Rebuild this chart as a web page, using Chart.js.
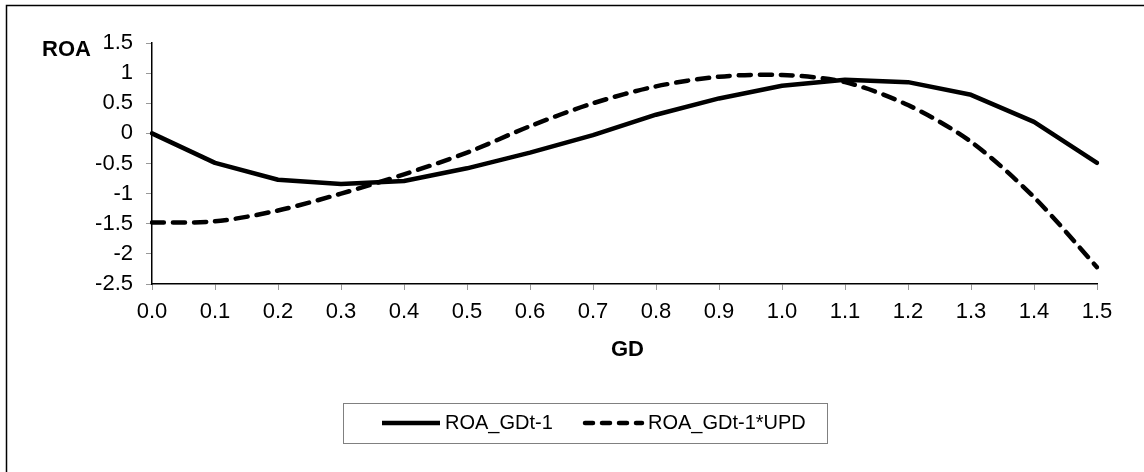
<!DOCTYPE html>
<html>
<head>
<meta charset="utf-8">
<script src="https://cdn.jsdelivr.net/npm/chart.js@4"></script>
<style>
  html, body { margin: 0; padding: 0; background: #fff; }
  #wrap { width: 1144px; height: 472px; }
</style>
</head>
<body>
<div id="wrap"><canvas id="c" width="1144" height="472"></canvas></div>
<script>
const categories = ['0.0','0.1','0.2','0.3','0.4','0.5','0.6','0.7','0.8','0.9','1.0','1.1','1.2','1.3','1.4','1.5'];
const roaGD = [0.0, -0.49, -0.77, -0.84, -0.79, -0.58, -0.32, -0.03, 0.31, 0.58, 0.79, 0.89, 0.85, 0.64, 0.19, -0.49];
const roaGDUPD = [-1.48, -1.46, -1.28, -1.0, -0.68, -0.32, 0.12, 0.5, 0.78, 0.94, 0.97, 0.85, 0.47, -0.14, -1.06, -2.22];
const yTickValues = [1.5, 1, 0.5, 0, -0.5, -1, -1.5, -2, -2.5];
const seriesNames = ['ROA_GDt-1', 'ROA_GDt-1*UPD'];
const yTitle = 'ROA';
const xTitle = 'GD';

const FONT = '"Liberation Sans", Arial, sans-serif';

const decor = {
  id: 'decor',
  afterDraw(chart) {
    const ctx = chart.ctx;
    const ca = chart.chartArea;
    ctx.save();
    ctx.strokeStyle = '#000';
    ctx.lineWidth = 1.5;
    ctx.beginPath();
    ctx.moveTo(6.5, 472);
    ctx.lineTo(6.5, 5.5);
    ctx.lineTo(1144, 5.5);
    ctx.stroke();
    ctx.fillStyle = '#000';
    ctx.font = 'bold 22px ' + FONT;
    ctx.textBaseline = 'middle';
    ctx.textAlign = 'left';
    ctx.fillText(yTitle, 42, 50);
    ctx.textAlign = 'center';
    ctx.fillText(xTitle, (ca.left + ca.right) / 2 + 3, 350);
    ctx.strokeStyle = '#808080';
    ctx.lineWidth = 1;
    ctx.strokeRect(343.5, 403.5, 484, 40);
    const items = chart.data.datasets;
    const xs = [[382, 440, 445], [585, 642, 648]];
    const ly = 423;
    ctx.font = '20px ' + FONT;
    ctx.textAlign = 'left';
    items.forEach((ds, i) => {
      ctx.beginPath();
      ctx.strokeStyle = ds.borderColor;
      ctx.lineWidth = ds.borderWidth;
      const dashed = ds.borderDash && ds.borderDash.length;
      ctx.lineCap = dashed ? 'round' : 'butt';
      ctx.setLineDash(dashed ? [8, 9] : []);
      ctx.moveTo(xs[i][0], ly);
      ctx.lineTo(xs[i][1], ly);
      ctx.stroke();
      ctx.setLineDash([]);
      ctx.fillStyle = '#000';
      ctx.fillText(ds.label, xs[i][2], ly);
    });
    ctx.restore();
  }
};

new Chart(document.getElementById('c'), {
  type: 'line',
  data: {
    labels: categories,
    datasets: [
      {
        label: seriesNames[0],
        data: roaGD,
        borderColor: '#000',
        borderWidth: 4.5,
        pointRadius: 0,
        tension: 0,
        borderCapStyle: 'round',
        borderJoinStyle: 'round',
        fill: false
      },
      {
        label: seriesNames[1],
        data: roaGDUPD,
        borderColor: '#000',
        borderWidth: 4.5,
        borderDash: [12, 9],
        borderCapStyle: 'round',
        borderJoinStyle: 'round',
        pointRadius: 0,
        tension: 0.3,
        fill: false
      }
    ]
  },
  options: {
    responsive: false,
    animation: false,
    devicePixelRatio: 1,
    layout: { padding: { left: 0, right: 47, top: 43, bottom: 148 } },
    plugins: { legend: { display: false }, tooltip: { enabled: false } },
    scales: {
      x: {
        type: 'category',
        offset: false,
        grid: { display: true, drawOnChartArea: false, drawTicks: true, tickLength: 6, color: '#999', lineWidth: 1 },
        border: { display: true, color: '#000', width: 1.5 },
        ticks: { color: '#000', font: { family: FONT, size: 22 }, padding: 9, maxRotation: 0, autoSkip: false },
        afterFit(scale) { scale.height = 40; }
      },
      y: {
        min: -2.5,
        max: 1.5,
        grid: { display: true, drawOnChartArea: false, drawTicks: true, tickLength: 6, color: '#999', lineWidth: 1 },
        border: { display: true, color: '#000', width: 1.5 },
        afterBuildTicks(scale) { scale.ticks = yTickValues.map(v => ({ value: v })); },
        ticks: { color: '#000', font: { family: FONT, size: 22 }, padding: 13, callback: (v) => String(v) },
        afterFit(scale) { scale.width = 152; }
      }
    }
  },
  plugins: [decor]
});
</script>
</body>
</html>
